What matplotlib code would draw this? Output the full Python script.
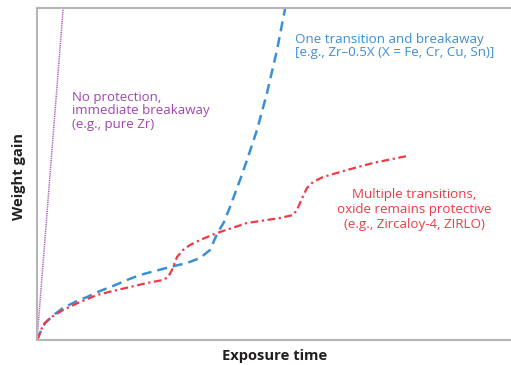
import matplotlib
matplotlib.use("Agg")
import matplotlib.pyplot as plt

# 數據 (任意單位, 示意曲線)
purple_x = [0, 26.5]
purple_y = [0, 336]

blue_x = [0, 3, 8, 18, 26, 38, 50, 63, 76, 90, 103, 118, 133, 150, 163, 173, 180, 187, 193, 203, 210, 220, 230, 240, 249]
blue_y = [0, 7, 17, 26, 32, 38, 43, 49, 54, 60, 65, 69, 73, 77, 82, 90, 106, 118, 133, 160, 180, 210, 247, 290, 336]

red_x = [0, 3, 6, 13, 26, 43, 60, 76, 93, 110, 126, 131, 135, 140, 146, 153, 163, 180, 210, 243, 256, 260, 263, 267, 270, 276, 286, 310, 336, 370]
red_y = [0, 7, 15, 22, 30, 38, 45, 49, 53, 57, 60, 63, 70, 83, 90, 95, 100, 107, 117, 122, 125, 130, 137, 146, 152, 158, 163, 170, 177, 184]

plt.rcParams["font.family"] = ["Open Sans", "DejaVu Sans"]

fig = plt.figure(figsize=(5.11, 3.65), dpi=100)
ax = fig.add_axes([37/511, 25/365, 478/511, 332/365])
ax.set_xlim(0, 478)
ax.set_ylim(0, 332)

ax.plot(purple_x, purple_y, color="#a044b2", lw=1.1, ls=(0, (0.6, 0.6)))
ax.plot(blue_x, blue_y, color="#3b8fd5", lw=1.8, ls=(0, (4, 2.4)))
ax.plot(red_x, red_y, color="#ee3a46", lw=1.6, ls=(0, (3.5, 1.6, 1, 1.6)))

ax.text(35, 229, "No protection,\nimmediate breakaway\n(e.g., pure Zr)",
        color="#a044b2", fontsize=9.5, va="center", ha="left", linespacing=1.05)
ax.text(258, 294, "One transition and breakaway\n[e.g., Zr\u20130.5X (X = Fe, Cr, Cu, Sn)]",
        color="#3b8fd5", fontsize=9.6, va="center", ha="left", linespacing=1.05)
ax.text(377, 130, "Multiple transitions,\noxide remains protective\n(e.g., Zircaloy-4, ZIRLO)",
        color="#ee3a46", fontsize=9.6, va="center", ha="center", linespacing=1.2)

for s in ["left", "bottom", "top"]:
    ax.spines[s].set_color("#b5b5b5")
    ax.spines[s].set_linewidth(1.5)
ax.spines["right"].set_visible(False)
ax.set_xticks([])
ax.set_yticks([])

fig.text(275/511, 1 - 356/365, "Exposure time", fontsize=10.6, fontweight="bold",
         color="#231f20", ha="center", va="center")
fig.text(19/511, 1 - 177/365, "Weight gain", fontsize=10.6, fontweight="bold",
         color="#231f20", ha="center", va="center", rotation=90)

fig.savefig("out.png", dpi=100)
